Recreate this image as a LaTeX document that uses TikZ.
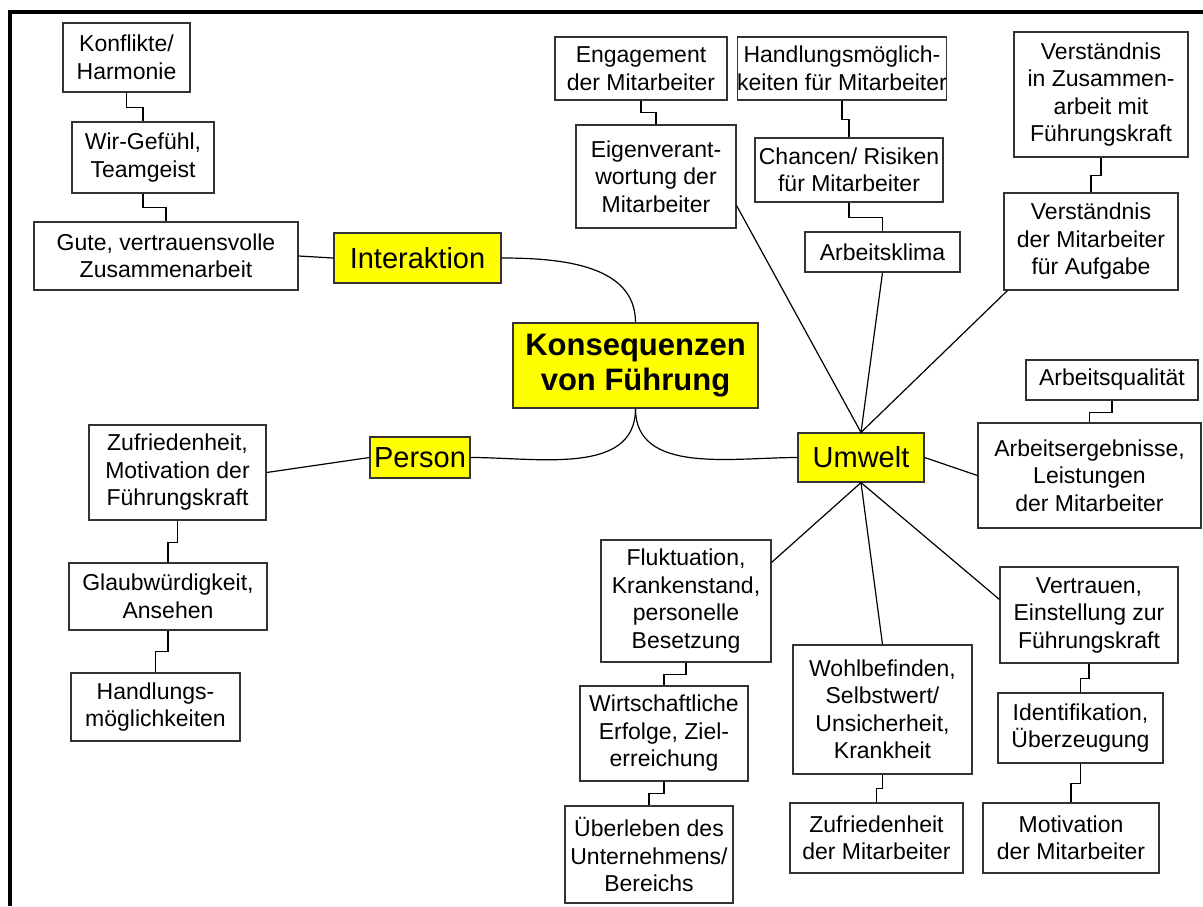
\documentclass[tikz,border=0pt]{standalone}
\usepackage{fontspec}
\setmainfont{Liberation Sans}
\usetikzlibrary{calc}
\definecolor{edge}{HTML}{333333}
\definecolor{hilite}{HTML}{FFFF00}
\begin{document}
\begin{tikzpicture}[x=1pt,y=-1pt,
  box/.style={draw=edge,line width=1.2pt,fill=white,align=center,inner sep=0pt,
    font=\fontsize{23}{27.5}\selectfont},
  lab/.style={draw=edge,line width=1.2pt,fill=hilite,align=center,inner sep=0pt,
    font=\fontsize{29}{35}\selectfont},
  link/.style={line width=1.2pt,draw=black},
  stepl/.style={line width=1.2pt,draw=black}]
\useasboundingbox (0,0) rectangle (1203,906);
% outer frame (top and left edges)
\draw[line width=4pt] (10,906) -- (10,11.5) -- (1203,11.5);

% box macro: name, x1, x2, y1, y2, style, text
\newcommand\bx[7]{%
  \node[#6,minimum width={(#3-#2)*1pt},minimum height={(#5-#4)*1pt}]
    (#1) at ({(#2+#3)/2},{(#4+#5)/2}) {#7};}

% central topic
\bx{title}{513}{758}{323}{408}{lab,font=\fontsize{31}{35}\selectfont\bfseries}{Konsequenzen\\von Führung}
% main branches
\bx{inter}{334}{501}{233}{283}{lab}{Interaktion}
\bx{person}{370}{470}{437}{478}{lab}{Person}
\bx{umw}{798}{924}{433}{482}{lab}{Umwelt}

% Interaktion branch
\bx{konf}{63}{190}{23}{92}{box}{Konflikte/\\Harmonie}
\bx{wir}{72}{214}{122}{193}{box}{Wir-Gefühl,\\Teamgeist}
\bx{gute}{34}{298}{222}{290}{box}{Gute, vertrauensvolle\\Zusammenarbeit}

% Person branch
\bx{zufr}{89}{266}{425}{520}{box}{Zufriedenheit,\\Motivation der\\Führungskraft}
\bx{glaub}{69}{267}{563}{630}{box}{Glaubwürdigkeit,\\Ansehen}
\bx{handl}{71}{240}{673}{741}{box}{Handlungs-\\möglichkeiten}

% Umwelt branch, upper part
\bx{eng}{555}{727}{37}{100}{box}{Engagement\\der Mitarbeiter}
\bx{eig}{576}{736}{125}{228}{box}{Eigenverant-\\wortung der\\Mitarbeiter}
\bx{hm}{738}{946}{37}{100}{box}{Handlungsmöglich-\\keiten für Mitarbeiter}
\bx{chan}{755}{943}{138}{202}{box}{Chancen/ Risiken\\für Mitarbeiter}
\bx{klima}{805}{960}{232}{272}{box}{Arbeitsklima}
\bx{vers}{1014}{1188}{32}{157}{box}{Verständnis\\in Zusammen-\\arbeit mit\\Führungskraft}
\bx{vma}{1004}{1178}{193}{290}{box}{Verständnis\\der Mitarbeiter\\für Aufgabe}
\bx{qual}{1026}{1198}{360}{400}{box}{Arbeitsqualität}
\bx{erg}{978}{1201}{423}{528}{box}{Arbeitsergebnisse,\\Leistungen\\der Mitarbeiter}

% Umwelt branch, lower part
\bx{vert}{1000}{1178}{567}{663}{box}{Vertrauen,\\Einstellung zur\\Führungskraft}
\bx{ident}{998}{1163}{693}{763}{box}{Identifikation,\\Überzeugung}
\bx{motiv}{983}{1159}{803}{873}{box}{Motivation\\der Mitarbeiter}
\bx{wohl}{793}{972}{645}{774}{box}{Wohlbefinden,\\Selbstwert/\\Unsicherheit,\\Krankheit}
\bx{zuma}{790}{963}{803}{873}{box}{Zufriedenheit\\der Mitarbeiter}
\bx{fluk}{601}{771}{540}{662}{box}{Fluktuation,\\Krankenstand,\\personelle\\Besetzung}
\bx{wirt}{580}{748}{686}{781}{box}{Wirtschaftliche\\Erfolge, Ziel-\\erreichung}
\bx{ueber}{565}{733}{806}{903}{box}{Überleben des\\Unternehmens/\\Bereichs}

% curved branches from the central topic
\draw[link] (inter.east) to[out=0,in=90] (title.north);
\draw[link] (title.south) to[out=-90,in=0] (person.east);
\draw[link] (title.south) to[out=-90,in=180] (umw.west);

% straight branches
\draw[link] (gute.east) -- (inter.west);
\draw[link] (zufr.east) -- (person.west);
\draw[link] (umw.east) -- (erg.west);
\draw[link] (umw.north) -- ($(eig.south east)+(0,-23)$);
\draw[link] (umw.north) -- (klima.south);
\draw[link] (umw.north) -- ($(vma.south west)+(4,0)$);
\draw[link] (umw.south) -- ($(fluk.north east)+(0,23)$);
\draw[link] (umw.south) -- (wohl.north);
\draw[link] (umw.south) -- ($(vert.north west)+(0,33)$);

% stepped links between stacked boxes
\newcommand\stp[3]{\draw[stepl] (#1.south) -- ++(0,#3) -| (#2.north);}
\stp{konf}{wir}{15}
\stp{wir}{gute}{14}
\stp{zufr}{glaub}{22}
\stp{glaub}{handl}{21}
\stp{eng}{eig}{12}
\stp{hm}{chan}{19}
\stp{chan}{klima}{15}
\stp{vers}{vma}{18}
\stp{qual}{erg}{12}
\stp{vert}{ident}{15}
\stp{ident}{motiv}{20}
\stp{wohl}{zuma}{14}
\stp{fluk}{wirt}{12}
\stp{wirt}{ueber}{12}
\end{tikzpicture}
\end{document}
